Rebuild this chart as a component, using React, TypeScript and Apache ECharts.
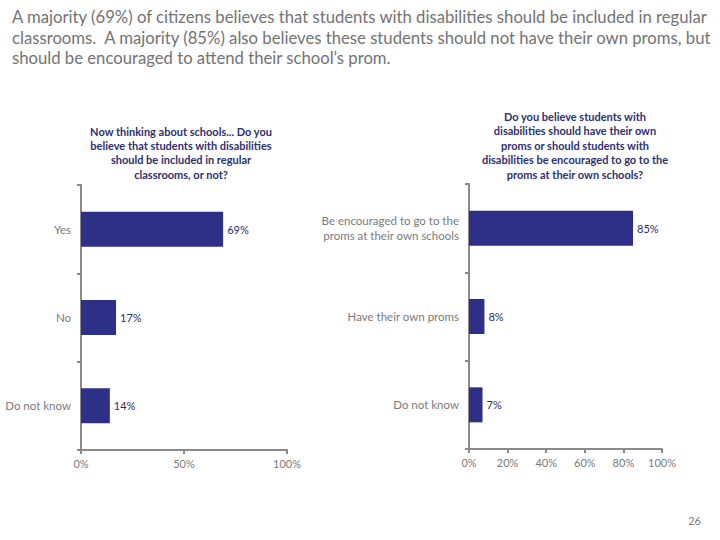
import React, { useEffect, useRef } from "react";
import * as echarts from "echarts";

const mainTitle =
  "A majority (69%) of citizens believes that students with disabilities should be included in regular\nclassrooms.  A majority (85%) also believes these students should not have their own proms, but\nshould be encouraged to attend their school\u2019s prom.";

const leftQuestion =
  "Now thinking about schools... Do you\nbelieve that students with disabilities\nshould be included in regular\nclassrooms, or not?";
const rightQuestion =
  "Do you believe students with\ndisabilities should have their own\nproms or should students with\ndisabilities be encouraged to go to the\nproms at their own schools?";

const leftCategories = ["Yes", "No", "Do not know"];
const leftValues = [69, 17, 14];
const rightCategories = [
  "Be encouraged to go to the\nproms at their own schools",
  "Have their own proms",
  "Do not know",
];
const rightValues = [85, 8, 7];
const pageNumber = "26";

const FONT = "Lato, 'Open Sans', sans-serif";
const NAVY = "#2e3087";
const AXIS = "#8a8a8a";
const LABEL = "#7a7a7a";

export default function App() {
  const ref = useRef<HTMLDivElement>(null);
  useEffect(() => {
    if (!ref.current) return;
    const chart = echarts.init(ref.current, null, { renderer: "svg" });
    const axisLine = { show: true, lineStyle: { color: AXIS, width: 2 } };
    const axisTick = { show: true, length: 4, lineStyle: { color: AXIS, width: 2 } };
    const mkX = (idx: number, interval: number) => ({
      type: "value",
      gridIndex: idx,
      min: 0,
      max: 100,
      interval,
      axisLine,
      axisTick,
      splitLine: { show: false },
      axisLabel: {
        formatter: "{value}%",
        color: LABEL,
        fontSize: 11,
        fontFamily: FONT,
        margin: 8,
      },
    });
    const mkY = (idx: number, cats: string[]) => ({
      type: "category",
      gridIndex: idx,
      data: cats,
      inverse: true,
      axisLine,
      axisTick: { ...axisTick, length: 4 },
      axisLabel: {
        color: LABEL,
        fontSize: 11.5,
        fontFamily: FONT,
        margin: 10,
        lineHeight: 15,
        align: "right",
      },
    });
    const mkSeries = (idx: number, data: number[]) => ({
      type: "bar",
      xAxisIndex: idx,
      yAxisIndex: idx,
      data,
      barWidth: 35,
      itemStyle: { color: NAVY },
      label: {
        show: true,
        position: "right",
        distance: 4,
        formatter: "{c}%",
        color: "#2b2d6a",
        fontSize: 11,
        fontFamily: FONT,
      },
    });
    chart.setOption({
      animation: false,
      backgroundColor: "#ffffff",
      title: {
        text: mainTitle,
        left: 7,
        top: 2,
        textStyle: {
          color: "#737373",
          fontSize: 16.7,
          fontWeight: "normal",
          fontFamily: FONT,
          lineHeight: 20.5,
        },
      },
      graphic: [
        {
          type: "text",
          x: 181,
          y: 124,
          style: {
            text: leftQuestion,
            textAlign: "center",
            align: "center",
            fill: "#2e3070",
            font: `bold 11px ${FONT}`,
            lineHeight: 14.3,
          },
        },
        {
          type: "text",
          x: 575,
          y: 109,
          style: {
            text: rightQuestion,
            textAlign: "center",
            align: "center",
            fill: "#2e3070",
            font: `bold 11px ${FONT}`,
            lineHeight: 14.5,
          },
        },
        {
          type: "text",
          x: 701,
          y: 515,
          style: {
            text: pageNumber,
            textAlign: "right",
            align: "right",
            fill: "#7a7a7a",
            font: `11px ${FONT}`,
          },
        },
      ],
      grid: [
        { left: 81, top: 185, width: 206, height: 265, containLabel: false },
        { left: 469, top: 184, width: 193, height: 265, containLabel: false },
      ],
      xAxis: [mkX(0, 50), mkX(1, 20)],
      yAxis: [mkY(0, leftCategories), mkY(1, rightCategories)],
      series: [mkSeries(0, leftValues), mkSeries(1, rightValues)],
    });
    return () => chart.dispose();
  }, []);
  return (
    <div
      ref={ref}
      style={{ position: "absolute", left: 0, top: 0, width: 720, height: 540 }}
    />
  );
}
